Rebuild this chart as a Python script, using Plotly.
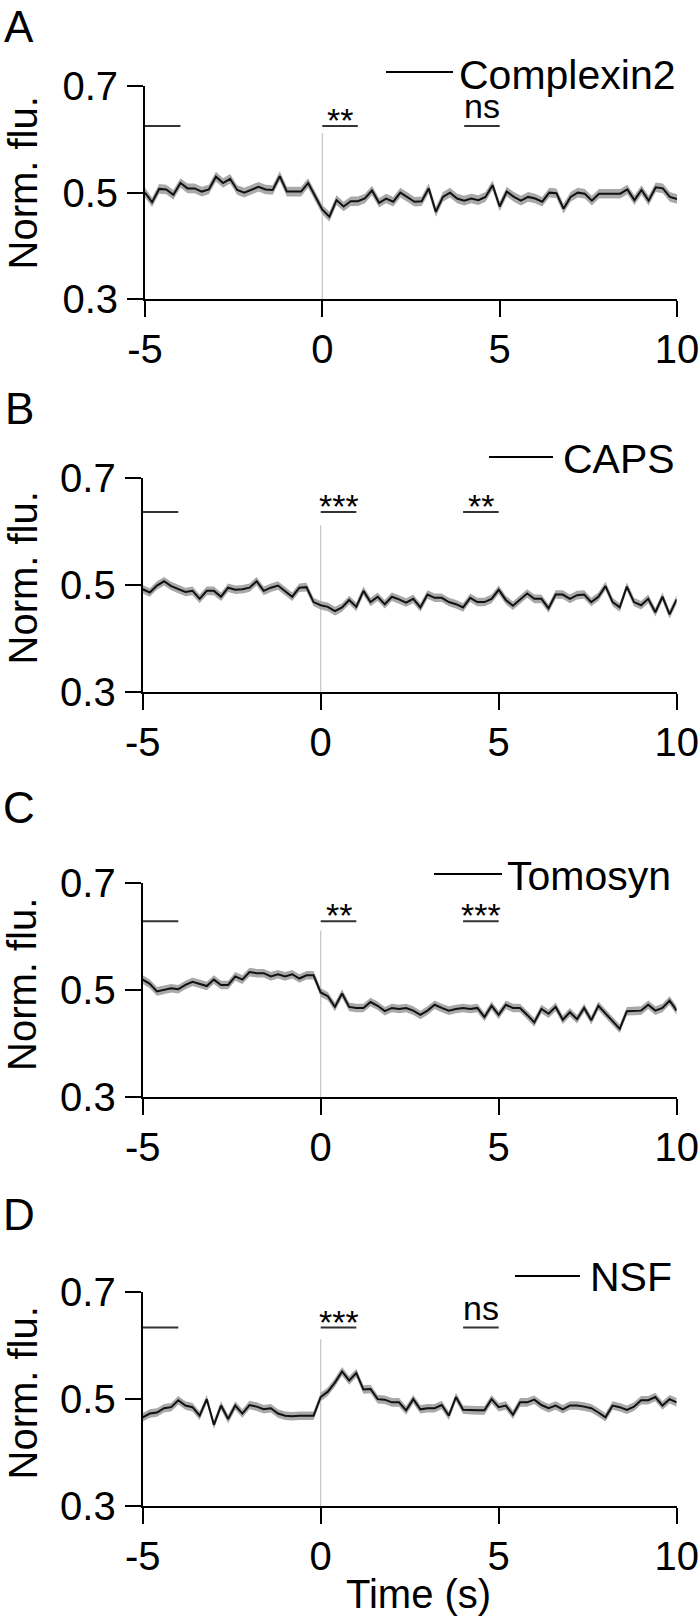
import plotly.graph_objects as go

# ---------------- data ----------------
time_s = [-5.0, -4.8, -4.6, -4.4, -4.2, -4.0, -3.8, -3.6, -3.4, -3.2,
          -3.0, -2.8, -2.6, -2.4, -2.2, -2.0, -1.8, -1.6, -1.4, -1.2,
          -1.0, -0.8, -0.6, -0.4, -0.2, 0.0, 0.2, 0.4, 0.6, 0.8,
          1.0, 1.2, 1.4, 1.6, 1.8, 2.0, 2.2, 2.4, 2.6, 2.8,
          3.0, 3.2, 3.4, 3.6, 3.8, 4.0, 4.2, 4.4, 4.6, 4.8,
          5.0, 5.2, 5.4, 5.6, 5.8, 6.0, 6.2, 6.4, 6.6, 6.8,
          7.0, 7.2, 7.4, 7.6, 7.8, 8.0, 8.2, 8.4, 8.6, 8.8,
          9.0, 9.2, 9.4, 9.6, 9.8, 10.0]

complexin2 = [0.500, 0.482, 0.507, 0.506, 0.496, 0.518, 0.508, 0.508, 0.502, 0.506,
              0.530, 0.518, 0.526, 0.505, 0.500, 0.505, 0.511, 0.506, 0.505, 0.531,
              0.502, 0.502, 0.502, 0.518, 0.492, 0.468, 0.455, 0.486, 0.474, 0.484,
              0.484, 0.489, 0.504, 0.481, 0.489, 0.483, 0.500, 0.492, 0.483, 0.484,
              0.508, 0.464, 0.492, 0.500, 0.489, 0.485, 0.489, 0.486, 0.492, 0.514,
              0.474, 0.502, 0.492, 0.485, 0.492, 0.489, 0.483, 0.500, 0.499, 0.470,
              0.492, 0.500, 0.498, 0.485, 0.498, 0.498, 0.498, 0.498, 0.506, 0.486,
              0.505, 0.485, 0.510, 0.508, 0.492, 0.488]

caps = [0.492, 0.486, 0.499, 0.507, 0.498, 0.492, 0.487, 0.489, 0.474, 0.489,
        0.489, 0.478, 0.495, 0.491, 0.492, 0.495, 0.507, 0.489, 0.495, 0.499,
        0.489, 0.478, 0.495, 0.496, 0.468, 0.462, 0.459, 0.451, 0.458, 0.472,
        0.459, 0.489, 0.468, 0.478, 0.464, 0.478, 0.473, 0.467, 0.474, 0.458,
        0.482, 0.476, 0.476, 0.468, 0.464, 0.458, 0.476, 0.468, 0.468, 0.474,
        0.491, 0.472, 0.461, 0.473, 0.484, 0.474, 0.474, 0.456, 0.482, 0.482,
        0.474, 0.481, 0.482, 0.468, 0.478, 0.498, 0.468, 0.458, 0.497, 0.468,
        0.462, 0.474, 0.449, 0.478, 0.445, 0.473]

tomosyn = [0.520, 0.512, 0.498, 0.501, 0.504, 0.502, 0.510, 0.516, 0.512, 0.508,
           0.520, 0.510, 0.510, 0.526, 0.520, 0.534, 0.532, 0.532, 0.526, 0.530,
           0.526, 0.530, 0.522, 0.528, 0.528, 0.496, 0.489, 0.469, 0.494, 0.469,
           0.467, 0.467, 0.478, 0.471, 0.461, 0.467, 0.465, 0.467, 0.462, 0.454,
           0.462, 0.473, 0.467, 0.462, 0.465, 0.467, 0.465, 0.467, 0.450, 0.471,
           0.454, 0.473, 0.467, 0.467, 0.454, 0.440, 0.465, 0.456, 0.469, 0.445,
           0.459, 0.446, 0.467, 0.444, 0.471, 0.456, 0.442, 0.428, 0.461, 0.462,
           0.462, 0.473, 0.462, 0.467, 0.481, 0.462]

nsf = [0.466, 0.473, 0.475, 0.483, 0.485, 0.498, 0.488, 0.485, 0.469, 0.500,
       0.452, 0.488, 0.463, 0.488, 0.473, 0.489, 0.486, 0.481, 0.483, 0.473,
       0.469, 0.468, 0.469, 0.469, 0.469, 0.504, 0.514, 0.531, 0.552, 0.535,
       0.549, 0.518, 0.519, 0.500, 0.499, 0.494, 0.494, 0.479, 0.500, 0.481,
       0.483, 0.483, 0.489, 0.469, 0.504, 0.480, 0.479, 0.479, 0.479, 0.500,
       0.485, 0.488, 0.471, 0.494, 0.494, 0.499, 0.489, 0.483, 0.488, 0.481,
       0.488, 0.488, 0.486, 0.483, 0.475, 0.466, 0.488, 0.485, 0.480, 0.486,
       0.498, 0.498, 0.504, 0.488, 0.500, 0.494]

names = ["Complexin2", "CAPS", "Tomosyn", "NSF"]
series = [complexin2, caps, tomosyn, nsf]
sem = [0.009, 0.008, 0.008, 0.008]
panel_letters = ["A", "B", "C", "D"]

baseline_window = [-5, -4]
test_windows = [[0, 1], [4, 5]]
sig_labels = [["**", "ns"], ["***", "**"], ["**", "***"], ["***", "ns"]]
sig_bar_level = [0.625, 0.637, 0.629, 0.634]
stim_time = 0
stim_line_top = 0.612

x_ticks = [-5, 0, 5, 10]
x_ticktext = ["-5", "0", "5", "10"]
y_ticks = [0.3, 0.5, 0.7]
y_ticktext = ["0.3", "0.5", "0.7"]

# ---------------- layout (pixels) ----------------
W, H = 700, 1620
FONT = "Liberation Sans, Arial, Helvetica, sans-serif"

def fx(p):
    return p / W

def fy(p):
    return 1 - p / H

# x0, x1, y_top(0.7), y_bottom(0.3)
panel_boxes = [(145, 677, 86, 299.3),
               (142.7, 676.7, 478.3, 691.7),
               (142.7, 676.7, 883.3, 1097.3),
               (142.7, 676.7, 1292.3, 1506)]
letter_y = [26, 409, 807, 1214]
ytitle_y = [183.5, 578.5, 985, 1393.5]
# line x0, line x1, line y, text x, text y
legend_px = [(386, 453, 72, 457, 75),
             (489, 553, 457, 561, 459),
             (434, 502, 874, 505, 876),
             (515, 580, 1276, 588, 1277)]

fig = go.Figure()
annotations = []
shapes = []

for i in range(4):
    xa = "x" if i == 0 else f"x{i+1}"
    ya = "y" if i == 0 else f"y{i+1}"
    vals = series[i]
    upper = [v + sem[i] for v in vals]
    lower = [v - sem[i] for v in vals]

    # stimulus line
    fig.add_trace(go.Scatter(x=[stim_time, stim_time], y=[y_ticks[0], stim_line_top],
                             xaxis=xa, yaxis=ya, mode="lines",
                             line=dict(color="#c4c4c4", width=1.2),
                             showlegend=False, hoverinfo="skip"))
    # SEM band
    fig.add_trace(go.Scatter(x=time_s, y=upper, xaxis=xa, yaxis=ya, mode="lines",
                             line=dict(width=0, color="rgba(0,0,0,0)"),
                             showlegend=False, hoverinfo="skip"))
    fig.add_trace(go.Scatter(x=time_s, y=lower, xaxis=xa, yaxis=ya, mode="lines",
                             line=dict(width=0, color="rgba(0,0,0,0)"),
                             fill="tonexty", fillcolor="#a9a9a9",
                             showlegend=False, hoverinfo="skip"))
    # mean
    fig.add_trace(go.Scatter(x=time_s, y=vals, xaxis=xa, yaxis=ya, mode="lines",
                             line=dict(color="#111111", width=2),
                             name=names[i], showlegend=False))
    # window bars
    for w in [baseline_window] + test_windows:
        fig.add_trace(go.Scatter(x=w, y=[sig_bar_level[i]] * 2, xaxis=xa, yaxis=ya,
                                 mode="lines", line=dict(color="#333333", width=2),
                                 showlegend=False, hoverinfo="skip"))
    for w, lab in zip(test_windows, sig_labels[i]):
        ysh = 20 if lab == "ns" else 6
        annotations.append(dict(x=(w[0] + w[1]) / 2, y=sig_bar_level[i], xref=xa, yref=ya,
                                text=lab, showarrow=False, xanchor="center", yanchor="middle",
                                yshift=ysh, font=dict(family=FONT, size=34, color="black")))

    x0, x1, yt, yb = panel_boxes[i]
    axis_common = dict(showline=True, linecolor="black", linewidth=2, ticks="outside",
                       ticklen=16, tickwidth=2, tickcolor="black", showgrid=False,
                       zeroline=False, automargin=False, ticklabeloverflow="allow",
                       tickfont=dict(family=FONT, size=40, color="black"))
    fig.layout[("xaxis" if i == 0 else f"xaxis{i+1}")] = dict(
        domain=[fx(x0), fx(x1)], range=[-5, 10], anchor=ya,
        tickvals=x_ticks, ticktext=x_ticktext, ticklabelstandoff=-2, **axis_common)
    fig.layout[("yaxis" if i == 0 else f"yaxis{i+1}")] = dict(
        domain=[fy(yb), fy(yt)], range=[0.3, 0.7], anchor=xa,
        tickvals=y_ticks, ticktext=y_ticktext, ticklabelstandoff=1, **axis_common)

    # panel letter
    annotations.append(dict(x=fx(19), y=fy(letter_y[i]), xref="paper", yref="paper",
                            text=panel_letters[i], showarrow=False, xanchor="center",
                            yanchor="middle", font=dict(family=FONT, size=44, color="black")))
    # y title
    annotations.append(dict(x=fx(22), y=fy(ytitle_y[i]), xref="paper", yref="paper",
                            text="Norm. flu.", textangle=-90, showarrow=False,
                            xanchor="center", yanchor="middle",
                            font=dict(family=FONT, size=40, color="black")))
    # legend
    lx0, lx1, ly, tx, ty = legend_px[i]
    shapes.append(dict(type="line", xref="paper", yref="paper", x0=fx(lx0), x1=fx(lx1),
                       y0=fy(ly), y1=fy(ly), line=dict(color="black", width=2)))
    annotations.append(dict(x=fx(tx), y=fy(ty), xref="paper", yref="paper",
                            text=names[i], showarrow=False, xanchor="left", yanchor="middle",
                            font=dict(family=FONT, size=41, color="black")))

annotations.append(dict(x=fx(418), y=fy(1594), xref="paper", yref="paper",
                        text="Time (s)", showarrow=False, xanchor="center", yanchor="middle",
                        font=dict(family=FONT, size=40, color="black")))

fig.update_layout(width=W, height=H,
                  margin=dict(l=0, r=0, t=0, b=0, pad=0, autoexpand=False),
                  paper_bgcolor="white", plot_bgcolor="white",
                  annotations=annotations, shapes=shapes, showlegend=False)

fig.write_html("out.html",
               config={"displayModeBar": False},
               post_script="document.body.style.margin='0px';"
                           "document.body.style.padding='0px';"
                           "document.documentElement.style.overflow='hidden';")
